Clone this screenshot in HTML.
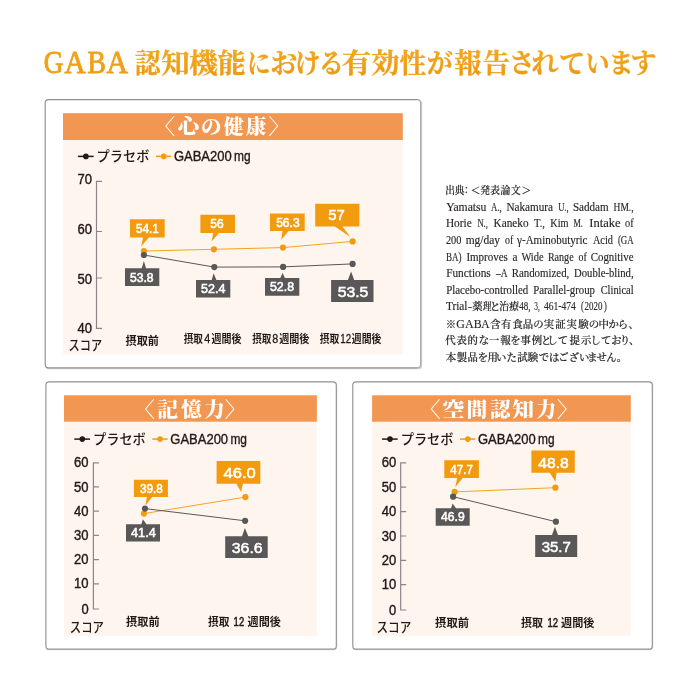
<!DOCTYPE html>
<html lang="ja">
<head>
<meta charset="utf-8">
<title>GABA 認知機能における有効性が報告されています</title>
<style>
html,body{margin:0;padding:0;background:#fff;}
body{width:700px;height:700px;overflow:hidden;position:relative;}
svg{position:absolute;left:0;top:0;display:block;}
text{white-space:pre;text-spacing-trim:space-all;}
.ttl{font-family:"Liberation Serif", "Noto Serif CJK SC", serif;font-weight:700;fill:url(#tg);stroke:#F0A016;stroke-width:0.3px;text-anchor:middle;}
.ttl .lat{font-weight:400;stroke-width:0.9px;}
.hd{font-family:"Liberation Serif", "Noto Serif CJK SC", serif;font-weight:900;fill:#fff;font-size:20.5px;text-anchor:middle;}
.hd .br{font-weight:300;font-size:21.5px;}
.lg{font-family:"Liberation Sans", "Noto Sans CJK JP", sans-serif;font-weight:500;fill:#231815;font-size:13.5px;}
.lgl{font-family:"Liberation Sans", "Noto Sans CJK JP", sans-serif;font-weight:400;fill:#231815;font-size:14px;stroke:#231815;stroke-width:0.35px;}
.ax{font-family:"Liberation Sans", "Noto Sans CJK JP", sans-serif;font-weight:400;fill:#231815;font-size:14px;text-anchor:end;stroke:#231815;stroke-width:0.4px;}
.xl{font-family:"Liberation Sans", "Noto Sans CJK JP", sans-serif;font-weight:700;fill:#231815;}
.xl .d{font-weight:400;font-size:12px;stroke:#231815;}
.cv{font-family:"Liberation Sans", "Noto Sans CJK JP", sans-serif;font-weight:400;fill:#fff;stroke:#fff;stroke-width:0.55px;text-anchor:middle;}
.src{font-family:"Liberation Serif", "Noto Serif CJK SC", serif;font-weight:400;fill:#2a2624;stroke:#2a2624;stroke-width:0.15px;font-size:12px;}
.src .j{font-weight:500;stroke-width:0.2px;text-anchor:middle;}
.src .c{text-anchor:middle;}
</style>
</head>
<body>
<svg width="700" height="700" viewBox="0 0 700 700">
<defs>
<linearGradient id="tg" gradientUnits="userSpaceOnUse" x1="0" y1="48" x2="0" y2="78">
<stop offset="0" stop-color="#F4AA1C"/><stop offset="1" stop-color="#EC9712"/>
</linearGradient>
<linearGradient id="bg1" x1="0" y1="0" x2="1" y2="0">
<stop offset="0" stop-color="#8f8f8f"/><stop offset="0.99" stop-color="#8f8f8f"/><stop offset="0.992" stop-color="#a8a8a8"/><stop offset="1" stop-color="#a8a8a8"/>
</linearGradient>
</defs>
<rect x="0" y="0" width="700" height="700" fill="#ffffff"/>

<text class="ttl"><tspan x="53.5" y="72.5" class="lat" font-size="30.5" textLength="19.66" lengthAdjust="spacingAndGlyphs">G</tspan><tspan x="75.1" y="72.5" class="lat" font-size="30.5" textLength="21.11" lengthAdjust="spacingAndGlyphs">A</tspan><tspan x="96.7" y="72.5" class="lat" font-size="30.5" textLength="18.37" lengthAdjust="spacingAndGlyphs">B</tspan><tspan x="117.3" y="72.5" class="lat" font-size="30.5" textLength="21.52" lengthAdjust="spacingAndGlyphs">A</tspan><tspan x="131.5" y="73" font-size="12"> </tspan><tspan x="147.8" y="73.0" font-size="27.3" textLength="25.62" lengthAdjust="spacingAndGlyphs">認</tspan><tspan x="175.4" y="73.0" font-size="27.3" textLength="28.40" lengthAdjust="spacingAndGlyphs">知</tspan><tspan x="203.5" y="73.0" font-size="27.3" textLength="28.35" lengthAdjust="spacingAndGlyphs">機</tspan><tspan x="231.7" y="73.0" font-size="27.3" textLength="27.84" lengthAdjust="spacingAndGlyphs">能</tspan><tspan x="258.9" y="73.2" font-size="27.6" textLength="23.30" lengthAdjust="spacingAndGlyphs">に</tspan><tspan x="283.8" y="73.2" font-size="27.6" textLength="27.03" lengthAdjust="spacingAndGlyphs">お</tspan><tspan x="307.6" y="73.2" font-size="27.6" textLength="26.24" lengthAdjust="spacingAndGlyphs">け</tspan><tspan x="331.6" y="73.2" font-size="27.6" textLength="25.47" lengthAdjust="spacingAndGlyphs">る</tspan><tspan x="356.5" y="73.0" font-size="27.3" textLength="29.49" lengthAdjust="spacingAndGlyphs">有</tspan><tspan x="385.4" y="73.0" font-size="27.3" textLength="28.40" lengthAdjust="spacingAndGlyphs">効</tspan><tspan x="412.8" y="73.0" font-size="27.3" textLength="26.79" lengthAdjust="spacingAndGlyphs">性</tspan><tspan x="439.7" y="73.2" font-size="27.6" textLength="26.05" lengthAdjust="spacingAndGlyphs">が</tspan><tspan x="468.0" y="73.0" font-size="27.3">報</tspan><tspan x="496.5" y="73.0" font-size="27.3">告</tspan><tspan x="522.0" y="73.2" font-size="27.6" textLength="25.85" lengthAdjust="spacingAndGlyphs">さ</tspan><tspan x="545.1" y="73.2" font-size="27.6" textLength="27.06" lengthAdjust="spacingAndGlyphs">れ</tspan><tspan x="572.1" y="73.2" font-size="27.6" textLength="26.27" lengthAdjust="spacingAndGlyphs">て</tspan><tspan x="597.5" y="73.2" font-size="27.6" textLength="24.14" lengthAdjust="spacingAndGlyphs">い</tspan><tspan x="621.2" y="73.2" font-size="27.6" textLength="25.47" lengthAdjust="spacingAndGlyphs">ま</tspan><tspan x="643.6" y="73.2" font-size="27.6" textLength="26.02" lengthAdjust="spacingAndGlyphs">す</tspan></text>
<rect x="46.2" y="100.5" width="375.4" height="268.3" rx="3.3" fill="none" stroke="#cccccc" stroke-width="1.1"/>
<rect x="45.2" y="99.6" width="375.4" height="268.3" rx="3.3" fill="#fff" stroke="url(#bg1)" stroke-width="1.15"/>
<rect x="63.0" y="113.2" width="339.8" height="241.1" fill="#FEF5EE"/>
<rect x="63.0" y="113.2" width="339.8" height="26.8" fill="#F29751"/>
<text class="hd"><tspan x="164.6" y="134.1" class="br">〈</tspan><tspan x="188.6" y="134.1" textLength="21.66" lengthAdjust="spacingAndGlyphs">心</tspan><tspan x="211.3" y="134.1">の</tspan><tspan x="233.8" y="134.1" textLength="19.99" lengthAdjust="spacingAndGlyphs">健</tspan><tspan x="256.1" y="134.1">康</tspan><tspan x="279.0" y="134.1" class="br">〉</tspan></text>
<line x1="77.9" y1="156.4" x2="93.6" y2="156.4" stroke="#231815" stroke-width="1.5"/>
<circle cx="85.9" cy="156.4" r="2.8" fill="#231815"/>
<text class="lg" x="96.6" y="161.4" textLength="52.8" lengthAdjust="spacingAndGlyphs">プラセボ</text>
<line x1="155.9" y1="156.4" x2="171.2" y2="156.4" stroke="#F29B0F" stroke-width="1.5"/>
<circle cx="163.7" cy="156.4" r="2.8" fill="#F29B0F"/>
<text class="lgl" y="161.3"><tspan x="173.9" textLength="57.8" lengthAdjust="spacingAndGlyphs">GABA200</tspan><tspan x="234.0" textLength="16.6" lengthAdjust="spacingAndGlyphs">mg</tspan></text>
<path d="M102.0 181.3H96.5V328.3H102.0M96.5 231.5H102.0M96.5 278.0H102.0" fill="none" stroke="#8b8685" stroke-width="1.2"/>
<text class="ax" x="92.0" y="183.6" textLength="14.5" lengthAdjust="spacingAndGlyphs">70</text>
<text class="ax" x="92.0" y="234.3" textLength="14.5" lengthAdjust="spacingAndGlyphs">60</text>
<text class="ax" x="92.0" y="283.9" textLength="14.5" lengthAdjust="spacingAndGlyphs">50</text>
<text class="ax" x="92.0" y="333.0" textLength="14.5" lengthAdjust="spacingAndGlyphs">40</text>
<text class="lg" x="68.6" y="349.8" textLength="33.6" lengthAdjust="spacingAndGlyphs" style="font-size:13.4px">スコア</text>
<polyline points="143.9,251.0 213.9,249.3 282.9,247.6 352.6,241.4" fill="none" stroke="#F29B0F" stroke-width="0.9"/>
<circle cx="143.9" cy="251.0" r="3.1" fill="#F29B0F"/>
<circle cx="213.9" cy="249.3" r="3.1" fill="#F29B0F"/>
<circle cx="282.9" cy="247.6" r="3.1" fill="#F29B0F"/>
<circle cx="352.6" cy="241.4" r="3.1" fill="#F29B0F"/>
<polyline points="143.9,255.0 214.3,267.1 283.1,266.9 352.6,263.9" fill="none" stroke="#595757" stroke-width="1.0"/>
<circle cx="143.9" cy="255.0" r="3.1" fill="#595757"/>
<circle cx="214.3" cy="267.1" r="3.1" fill="#595757"/>
<circle cx="283.1" cy="266.9" r="3.1" fill="#595757"/>
<circle cx="352.6" cy="263.9" r="3.1" fill="#595757"/>
<path d="M130.0 219.3H164.7V237.6H148.9L141.1 246.4L143.1 237.6H130.0Z" fill="#F29B0F"/>
<text class="cv" x="147.3" y="232.5" font-size="12.0" textLength="22.6" lengthAdjust="spacingAndGlyphs">54.1</text>
<path d="M200.4 214.7H235.0V232.9H218.9L211.7 241.4L213.1 232.9H200.4Z" fill="#F29B0F"/>
<text class="cv" x="216.9" y="228.0" font-size="12.0" textLength="13.3" lengthAdjust="spacingAndGlyphs">56</text>
<path d="M270.0 213.6H304.7V231.1H288.6L281.1 240.0L282.6 231.1H270.0Z" fill="#F29B0F"/>
<text class="cv" x="287.9" y="226.8" font-size="12.0" textLength="23.5" lengthAdjust="spacingAndGlyphs">56.3</text>
<path d="M315.2 203.8H359.4V226.5H342.4L350.3 237.1L334.9 226.5H315.2Z" fill="#F29B0F"/>
<text class="cv" x="336.6" y="220.0" font-size="15.2" textLength="16.5" lengthAdjust="spacingAndGlyphs">57</text>
<path d="M125.0 268.3H141.7L143.9 261.0L146.0 268.3H159.3V286.1H125.0Z" fill="#595757"/>
<text class="cv" x="141.8" y="281.8" font-size="12.0" textLength="23.6" lengthAdjust="spacingAndGlyphs">53.8</text>
<path d="M196.0 280.0H211.7L213.6 273.3L216.4 280.0H230.3V297.6H196.0Z" fill="#595757"/>
<text class="cv" x="213.2" y="293.0" font-size="12.0" textLength="24.3" lengthAdjust="spacingAndGlyphs">52.4</text>
<path d="M265.0 277.9H280.3L282.6 272.9L284.9 277.9H299.3V295.7H265.0Z" fill="#595757"/>
<text class="cv" x="282.0" y="291.1" font-size="12.0" textLength="24.0" lengthAdjust="spacingAndGlyphs">52.8</text>
<path d="M331.1 280.1H347.9L351.1 271.4L354.2 280.1H373.5V302.1H331.1Z" fill="#595757"/>
<text class="cv" x="353.0" y="296.6" font-size="15.2" textLength="30.7" lengthAdjust="spacingAndGlyphs">53.5</text>
<text class="xl" y="345.3" font-size="11.8"><tspan x="125.6" textLength="33.4" lengthAdjust="spacingAndGlyphs">摂取前</tspan></text>
<text class="xl" y="342.9" font-size="10.8"><tspan x="183.7" textLength="19.2" lengthAdjust="spacingAndGlyphs">摂取</tspan><tspan class="d" x="204.2" textLength="6.0" lengthAdjust="spacingAndGlyphs" style="stroke-width:0.30px">4</tspan><tspan x="211.6" textLength="30.0" lengthAdjust="spacingAndGlyphs">週間後</tspan></text>
<text class="xl" y="342.9" font-size="10.8"><tspan x="252.2" textLength="19.1" lengthAdjust="spacingAndGlyphs">摂取</tspan><tspan class="d" x="272.2" textLength="6.0" lengthAdjust="spacingAndGlyphs" style="stroke-width:0.30px">8</tspan><tspan x="279.2" textLength="30.2" lengthAdjust="spacingAndGlyphs">週間後</tspan></text>
<text class="xl" y="342.9" font-size="10.8"><tspan x="319.7" textLength="19.5" lengthAdjust="spacingAndGlyphs">摂取</tspan><tspan class="d" x="340.3" textLength="10.9" lengthAdjust="spacingAndGlyphs" style="stroke-width:0.30px">12</tspan><tspan x="351.8" textLength="29.6" lengthAdjust="spacingAndGlyphs">週間後</tspan></text>
<rect x="46.4" y="382.3" width="290.4" height="267.3" rx="3.3" fill="none" stroke="#dedede" stroke-width="1.1"/>
<rect x="45.9" y="381.9" width="290.4" height="267.3" rx="3.3" fill="#fff" stroke="#929292" stroke-width="1.15"/>
<rect x="64.0" y="395.3" width="252.9" height="240.7" fill="#FEF5EE"/>
<rect x="64.0" y="395.3" width="252.9" height="26.4" fill="#F29751"/>
<text class="hd"><tspan x="144.2" y="416.5" class="br">〈</tspan><tspan x="167.7" y="416.5" textLength="21.04" lengthAdjust="spacingAndGlyphs">記</tspan><tspan x="191.6" y="416.5">憶</tspan><tspan x="214.4" y="416.5">力</tspan><tspan x="235.3" y="416.5" class="br">〉</tspan></text>
<line x1="74.3" y1="439.1" x2="90.0" y2="439.1" stroke="#231815" stroke-width="1.5"/>
<circle cx="82.3" cy="439.1" r="2.8" fill="#231815"/>
<text class="lg" x="93.0" y="444.1" textLength="52.8" lengthAdjust="spacingAndGlyphs">プラセボ</text>
<line x1="152.3" y1="439.1" x2="167.6" y2="439.1" stroke="#F29B0F" stroke-width="1.5"/>
<circle cx="160.1" cy="439.1" r="2.8" fill="#F29B0F"/>
<text class="lgl" y="444.0"><tspan x="170.3" textLength="57.8" lengthAdjust="spacingAndGlyphs">GABA200</tspan><tspan x="230.4" textLength="16.6" lengthAdjust="spacingAndGlyphs">mg</tspan></text>
<path d="M98.9 462.8H93.4V609.0H98.9M93.4 486.9H98.9M93.4 511.2H98.9M93.4 535.3H98.9M93.4 559.6H98.9M93.4 583.8H98.9" fill="none" stroke="#8b8685" stroke-width="1.2"/>
<text class="ax" x="88.6" y="467.4" textLength="14.5" lengthAdjust="spacingAndGlyphs">60</text>
<text class="ax" x="88.6" y="491.5" textLength="14.5" lengthAdjust="spacingAndGlyphs">50</text>
<text class="ax" x="88.6" y="515.8" textLength="14.5" lengthAdjust="spacingAndGlyphs">40</text>
<text class="ax" x="88.6" y="539.9" textLength="14.5" lengthAdjust="spacingAndGlyphs">30</text>
<text class="ax" x="88.6" y="564.2" textLength="14.5" lengthAdjust="spacingAndGlyphs">20</text>
<text class="ax" x="88.6" y="588.4" textLength="14.5" lengthAdjust="spacingAndGlyphs">10</text>
<text class="ax" x="88.6" y="613.6" textLength="7.2" lengthAdjust="spacingAndGlyphs">0</text>
<text class="lg" x="69.8" y="631.5" textLength="34.2" lengthAdjust="spacingAndGlyphs" style="font-size:13.2px">スコア</text>
<polyline points="143.9,513.6 245.4,497.1" fill="none" stroke="#F29B0F" stroke-width="0.9"/>
<circle cx="143.9" cy="513.6" r="3.1" fill="#F29B0F"/>
<circle cx="245.4" cy="497.1" r="3.1" fill="#F29B0F"/>
<polyline points="145.0,508.6 245.1,520.8" fill="none" stroke="#595757" stroke-width="1.0"/>
<circle cx="145.0" cy="508.6" r="3.1" fill="#595757"/>
<circle cx="245.1" cy="520.8" r="3.1" fill="#595757"/>
<path d="M133.9 479.7H167.9V496.9H152.1L145.4 505.7L146.9 496.9H133.9Z" fill="#F29B0F"/>
<text class="cv" x="151.4" y="493.0" font-size="12.0" textLength="22.9" lengthAdjust="spacingAndGlyphs">39.8</text>
<path d="M216.6 461.1H260.3V483.8H242.9L241.1 492.0L236.3 483.8H216.6Z" fill="#F29B0F"/>
<text class="cv" x="239.6" y="477.9" font-size="15.2" textLength="32.2" lengthAdjust="spacingAndGlyphs">46.0</text>
<path d="M126.0 524.3H141.4L142.9 519.3L146.4 524.3H160.0V541.4H126.0Z" fill="#595757"/>
<text class="cv" x="143.4" y="537.2" font-size="12.0" textLength="24.6" lengthAdjust="spacingAndGlyphs">41.4</text>
<path d="M225.2 536.2H242.0L244.9 528.0L248.3 536.2H267.7V558.0H225.2Z" fill="#595757"/>
<text class="cv" x="247.2" y="553.0" font-size="15.2" textLength="30.9" lengthAdjust="spacingAndGlyphs">36.6</text>
<text class="xl" y="626.0" font-size="11.8"><tspan x="126.1" textLength="33.6" lengthAdjust="spacingAndGlyphs">摂取前</tspan></text>
<text class="xl" y="625.7" font-size="11.3"><tspan x="208.0" textLength="21.4" lengthAdjust="spacingAndGlyphs">摂取</tspan><tspan x="230.0" textLength="1.0" lengthAdjust="spacingAndGlyphs"> </tspan><tspan class="d" x="233.6" textLength="10.6" lengthAdjust="spacingAndGlyphs" style="stroke-width:0.50px">12</tspan><tspan x="245.0" textLength="1.0" lengthAdjust="spacingAndGlyphs"> </tspan><tspan x="247.6" textLength="33.4" lengthAdjust="spacingAndGlyphs">週間後</tspan></text>
<rect x="353.3" y="382.3" width="299.5" height="267.3" rx="3.3" fill="none" stroke="#dedede" stroke-width="1.1"/>
<rect x="352.8" y="381.9" width="299.5" height="267.3" rx="3.3" fill="#fff" stroke="#929292" stroke-width="1.15"/>
<rect x="372.1" y="395.3" width="258.7" height="241.0" fill="#FEF5EE"/>
<rect x="372.1" y="395.3" width="258.7" height="26.4" fill="#F29751"/>
<text class="hd"><tspan x="430.0" y="416.5" class="br">〈</tspan><tspan x="453.5" y="416.5" textLength="21.90" lengthAdjust="spacingAndGlyphs">空</tspan><tspan x="476.8" y="416.5" textLength="20.85" lengthAdjust="spacingAndGlyphs">間</tspan><tspan x="500.2" y="416.5">認</tspan><tspan x="523.0" y="416.5" textLength="21.69" lengthAdjust="spacingAndGlyphs">知</tspan><tspan x="546.2" y="416.5" textLength="19.93" lengthAdjust="spacingAndGlyphs">力</tspan><tspan x="567.4" y="416.5" class="br">〉</tspan></text>
<line x1="382.0" y1="439.1" x2="397.7" y2="439.1" stroke="#231815" stroke-width="1.5"/>
<circle cx="390.0" cy="439.1" r="2.8" fill="#231815"/>
<text class="lg" x="400.7" y="444.1" textLength="52.8" lengthAdjust="spacingAndGlyphs">プラセボ</text>
<line x1="460.0" y1="439.1" x2="475.3" y2="439.1" stroke="#F29B0F" stroke-width="1.5"/>
<circle cx="467.8" cy="439.1" r="2.8" fill="#F29B0F"/>
<text class="lgl" y="444.0"><tspan x="478.0" textLength="57.8" lengthAdjust="spacingAndGlyphs">GABA200</tspan><tspan x="538.1" textLength="16.6" lengthAdjust="spacingAndGlyphs">mg</tspan></text>
<path d="M406.2 462.8H400.7V610.0H406.2M400.7 487.2H406.2M400.7 511.6H406.2M400.7 536.0H406.2M400.7 560.4H406.2M400.7 584.6H406.2" fill="none" stroke="#8b8685" stroke-width="1.2"/>
<text class="ax" x="396.3" y="467.4" textLength="14.5" lengthAdjust="spacingAndGlyphs">60</text>
<text class="ax" x="396.3" y="491.8" textLength="14.5" lengthAdjust="spacingAndGlyphs">50</text>
<text class="ax" x="396.3" y="516.2" textLength="14.5" lengthAdjust="spacingAndGlyphs">40</text>
<text class="ax" x="396.3" y="540.6" textLength="14.5" lengthAdjust="spacingAndGlyphs">30</text>
<text class="ax" x="396.3" y="565.0" textLength="14.5" lengthAdjust="spacingAndGlyphs">20</text>
<text class="ax" x="396.3" y="589.2" textLength="14.5" lengthAdjust="spacingAndGlyphs">10</text>
<text class="ax" x="396.3" y="614.6" textLength="7.2" lengthAdjust="spacingAndGlyphs">0</text>
<text class="lg" x="376.5" y="631.9" textLength="34.8" lengthAdjust="spacingAndGlyphs" style="font-size:13.2px">スコア</text>
<polyline points="454.6,491.9 555.4,487.7" fill="none" stroke="#F29B0F" stroke-width="0.9"/>
<circle cx="454.6" cy="491.9" r="3.1" fill="#F29B0F"/>
<circle cx="555.4" cy="487.7" r="3.1" fill="#F29B0F"/>
<polyline points="453.1,496.7 555.9,521.7" fill="none" stroke="#595757" stroke-width="1.0"/>
<circle cx="453.1" cy="496.7" r="3.1" fill="#595757"/>
<circle cx="555.9" cy="521.7" r="3.1" fill="#595757"/>
<path d="M444.3 460.3H478.9V477.9H462.6L455.4 487.1L457.1 477.9H444.3Z" fill="#F29B0F"/>
<text class="cv" x="461.6" y="473.7" font-size="12.0" textLength="22.6" lengthAdjust="spacingAndGlyphs">47.7</text>
<path d="M531.4 450.5H574.8V472.8H556.6L555.4 481.7L549.8 472.8H531.4Z" fill="#F29B0F"/>
<text class="cv" x="553.5" y="467.8" font-size="15.2" textLength="30.5" lengthAdjust="spacingAndGlyphs">48.8</text>
<path d="M435.7 508.3H451.1L452.6 503.6L456.0 508.3H469.7V525.7H435.7Z" fill="#595757"/>
<text class="cv" x="452.9" y="521.1" font-size="12.0" textLength="23.6" lengthAdjust="spacingAndGlyphs">46.9</text>
<path d="M535.2 534.9H552.0L554.9 526.8L558.0 534.9H577.2V557.1H535.2Z" fill="#595757"/>
<text class="cv" x="556.3" y="551.6" font-size="15.2" textLength="29.2" lengthAdjust="spacingAndGlyphs">35.7</text>
<text class="xl" y="626.6" font-size="11.8"><tspan x="435.1" textLength="33.9" lengthAdjust="spacingAndGlyphs">摂取前</tspan></text>
<text class="xl" y="626.6" font-size="11.3"><tspan x="521.0" textLength="22.0" lengthAdjust="spacingAndGlyphs">摂取</tspan><tspan x="543.5" textLength="1.0" lengthAdjust="spacingAndGlyphs"> </tspan><tspan class="d" x="547.4" textLength="10.6" lengthAdjust="spacingAndGlyphs" style="stroke-width:0.50px">12</tspan><tspan x="558.5" textLength="1.0" lengthAdjust="spacingAndGlyphs"> </tspan><tspan x="561.0" textLength="33.4" lengthAdjust="spacingAndGlyphs">週間後</tspan></text>
<text class="src"><tspan x="450.0" y="194.4" class="j" font-size="9.7">出</tspan><tspan x="459.5" y="194.4" class="j" font-size="9.7">典</tspan><tspan x="466.3" y="194.4" class="j" font-size="9.7">：</tspan><tspan x="475.7" y="194.4" class="j" font-size="9.7">＜</tspan><tspan x="485.2" y="194.4" class="j" font-size="9.7">発</tspan><tspan x="495.2" y="194.4" class="j" font-size="9.7">表</tspan><tspan x="505.4" y="194.4" class="j" font-size="9.7">論</tspan><tspan x="515.8" y="194.4" class="j" font-size="9.7">文</tspan><tspan x="526.4" y="194.4" class="j" font-size="9.7">＞</tspan></text>
<text class="src"><tspan x="446.2" y="210.7" textLength="40.2" lengthAdjust="spacingAndGlyphs">Yamatsu</tspan> <tspan x="491.0" y="210.7" textLength="10.8" lengthAdjust="spacingAndGlyphs">A.,</tspan> <tspan x="506.4" y="210.7" textLength="46.5" lengthAdjust="spacingAndGlyphs">Nakamura</tspan> <tspan x="558.2" y="210.7" textLength="10.4" lengthAdjust="spacingAndGlyphs">U.,</tspan> <tspan x="572.9" y="210.7" textLength="35.7" lengthAdjust="spacingAndGlyphs">Saddam</tspan> <tspan x="613.6" y="210.7" textLength="20.0" lengthAdjust="spacingAndGlyphs">HM.,</tspan></text>
<text class="src"><tspan x="445.9" y="227.4" textLength="25.8" lengthAdjust="spacingAndGlyphs">Horie</tspan> <tspan x="477.4" y="227.4" textLength="10.5" lengthAdjust="spacingAndGlyphs">N.,</tspan> <tspan x="493.6" y="227.4" textLength="35.0" lengthAdjust="spacingAndGlyphs">Kaneko</tspan> <tspan x="534.0" y="227.4" textLength="11.0" lengthAdjust="spacingAndGlyphs">T.,</tspan> <tspan x="550.3" y="227.4" textLength="18.3" lengthAdjust="spacingAndGlyphs">Kim</tspan> <tspan x="573.6" y="227.4" textLength="9.3" lengthAdjust="spacingAndGlyphs">M.</tspan> <tspan x="589.3" y="227.4" textLength="31.2" lengthAdjust="spacingAndGlyphs">Intake</tspan> <tspan x="625.0" y="227.4" textLength="8.6" lengthAdjust="spacingAndGlyphs">of</tspan></text>
<text class="src"><tspan x="445.9" y="243.9" textLength="15.5" lengthAdjust="spacingAndGlyphs">200</tspan> <tspan x="465.7" y="243.9" textLength="34.3" lengthAdjust="spacingAndGlyphs">mg/day</tspan> <tspan x="505.0" y="243.9" textLength="8.2" lengthAdjust="spacingAndGlyphs">of</tspan> <tspan x="517.1" y="243.9" textLength="70.4" lengthAdjust="spacingAndGlyphs">γ-Aminobutyric</tspan> <tspan x="592.9" y="243.9" textLength="20.0" lengthAdjust="spacingAndGlyphs">Acid</tspan> <tspan x="617.9" y="243.9" textLength="15.7" lengthAdjust="spacingAndGlyphs">(GA</tspan></text>
<text class="src"><tspan x="445.9" y="260.7" textLength="15.5" lengthAdjust="spacingAndGlyphs">BA)</tspan> <tspan x="466.4" y="260.7" textLength="41.5" lengthAdjust="spacingAndGlyphs">Improves</tspan> <tspan x="512.5" y="260.7" textLength="5.0" lengthAdjust="spacingAndGlyphs">a</tspan> <tspan x="521.4" y="260.7" textLength="22.2" lengthAdjust="spacingAndGlyphs">Wide</tspan> <tspan x="547.9" y="260.7" textLength="25.7" lengthAdjust="spacingAndGlyphs">Range</tspan> <tspan x="578.6" y="260.7" textLength="8.2" lengthAdjust="spacingAndGlyphs">of</tspan> <tspan x="590.7" y="260.7" textLength="42.9" lengthAdjust="spacingAndGlyphs">Cognitive</tspan></text>
<text class="src"><tspan x="446.2" y="277.1" textLength="44.5" lengthAdjust="spacingAndGlyphs">Functions</tspan> <tspan x="496.0" y="277.1" textLength="11.1" lengthAdjust="spacingAndGlyphs">–A</tspan> <tspan x="511.7" y="277.1" textLength="57.6" lengthAdjust="spacingAndGlyphs">Randomized,</tspan> <tspan x="574.0" y="277.1" textLength="59.6" lengthAdjust="spacingAndGlyphs">Double-blind,</tspan></text>
<text class="src"><tspan x="446.2" y="293.6" textLength="82.1" lengthAdjust="spacingAndGlyphs">Placebo-controlled</tspan> <tspan x="533.2" y="293.6" textLength="61.8" lengthAdjust="spacingAndGlyphs">Parallel-group</tspan> <tspan x="600.7" y="293.6" textLength="32.9" lengthAdjust="spacingAndGlyphs">Clinical</tspan></text>
<text class="src"><tspan x="445.9" y="310.4" textLength="21.6" lengthAdjust="spacingAndGlyphs">Trial</tspan><tspan x="468.2" y="310.4" textLength="3.4" lengthAdjust="spacingAndGlyphs">–</tspan><tspan x="477.3" y="310.2" class="j" font-size="9.7" textLength="10.35" lengthAdjust="spacingAndGlyphs">薬</tspan><tspan x="487.3" y="310.2" class="j" font-size="9.7" textLength="8.41" lengthAdjust="spacingAndGlyphs">理</tspan><tspan x="495.1" y="310.2" class="j" font-size="9.7" textLength="11.16" lengthAdjust="spacingAndGlyphs">と</tspan><tspan x="504.1" y="310.2" class="j" font-size="9.7">治</tspan><tspan x="514.1" y="310.2" class="j" font-size="9.7">療</tspan><tspan x="519.3" y="310.4" textLength="11.2" lengthAdjust="spacingAndGlyphs">48,</tspan> <tspan x="534.3" y="310.4" textLength="5.5" lengthAdjust="spacingAndGlyphs">3,</tspan> <tspan x="543.9" y="310.4" textLength="31.8" lengthAdjust="spacingAndGlyphs">461-474</tspan> <tspan x="581.0" y="310.1" textLength="2.8" lengthAdjust="spacingAndGlyphs">(</tspan><tspan x="584.6" y="310.4" textLength="18.0" lengthAdjust="spacingAndGlyphs">2020</tspan><tspan x="604.0" y="310.1" textLength="2.8" lengthAdjust="spacingAndGlyphs">)</tspan></text>
<text class="src"><tspan x="450.9" y="327.5" class="j" font-size="10.4">※</tspan><tspan x="460.6" y="327.5" class="c" font-size="12.6" textLength="8.60" lengthAdjust="spacingAndGlyphs">G</tspan><tspan x="469.3" y="327.5" class="c" font-size="12.6" textLength="8.69" lengthAdjust="spacingAndGlyphs">A</tspan><tspan x="477.8" y="327.5" class="c" font-size="12.6" textLength="7.88" lengthAdjust="spacingAndGlyphs">B</tspan><tspan x="485.5" y="327.5" class="c" font-size="12.6" textLength="8.29" lengthAdjust="spacingAndGlyphs">A</tspan><tspan x="495.4" y="327.5" class="j" font-size="10.4">含</tspan><tspan x="506.2" y="327.5" class="j" font-size="10.4">有</tspan><tspan x="517.6" y="327.5" class="j" font-size="10.4">食</tspan><tspan x="528.0" y="327.5" class="j" font-size="10.4">品</tspan><tspan x="538.5" y="327.5" class="j" font-size="10.4">の</tspan><tspan x="549.0" y="327.5" class="j" font-size="10.4">実</tspan><tspan x="560.5" y="327.5" class="j" font-size="10.4">証</tspan><tspan x="571.6" y="327.5" class="j" font-size="10.4">実</tspan><tspan x="583.4" y="327.5" class="j" font-size="10.4">験</tspan><tspan x="594.0" y="327.5" class="j" font-size="10.4">の</tspan><tspan x="603.8" y="327.5" class="j" font-size="10.4">中</tspan><tspan x="613.6" y="327.5" class="j" font-size="10.4">か</tspan><tspan x="623.0" y="327.5" class="j" font-size="10.4">ら</tspan><tspan x="633.6" y="327.5" class="j" font-size="10.4">、</tspan></text>
<text class="src"><tspan x="450.5" y="344.2" class="j" font-size="10.4">代</tspan><tspan x="461.8" y="344.2" class="j" font-size="10.4">表</tspan><tspan x="472.8" y="344.2" class="j" font-size="10.4">的</tspan><tspan x="483.9" y="344.2" class="j" font-size="10.4">な</tspan><tspan x="494.0" y="344.2" class="j" font-size="10.4">一</tspan><tspan x="505.4" y="344.2" class="j" font-size="10.4">報</tspan><tspan x="515.4" y="344.2" class="j" font-size="10.4">を</tspan><tspan x="525.7" y="344.2" class="j" font-size="10.4">事</tspan><tspan x="537.0" y="344.2" class="j" font-size="10.4">例</tspan><tspan x="546.3" y="344.2" class="j" font-size="10.4">と</tspan><tspan x="552.5" y="344.2" class="j" font-size="10.4">し</tspan><tspan x="563.0" y="344.2" class="j" font-size="10.4">て</tspan><tspan x="574.6" y="344.2" class="j" font-size="10.4">提</tspan><tspan x="586.2" y="344.2" class="j" font-size="10.4">示</tspan><tspan x="595.8" y="344.2" class="j" font-size="10.4">し</tspan><tspan x="606.3" y="344.2" class="j" font-size="10.4">て</tspan><tspan x="616.5" y="344.2" class="j" font-size="10.4">お</tspan><tspan x="624.9" y="344.2" class="j" font-size="10.4">り</tspan><tspan x="634.2" y="344.2" class="j" font-size="10.4">、</tspan></text>
<text class="src"><tspan x="450.9" y="360.8" class="j" font-size="10.4">本</tspan><tspan x="462.0" y="360.8" class="j" font-size="10.4">製</tspan><tspan x="472.6" y="360.8" class="j" font-size="10.4">品</tspan><tspan x="482.9" y="360.8" class="j" font-size="10.4">を</tspan><tspan x="492.6" y="360.8" class="j" font-size="10.4">用</tspan><tspan x="501.2" y="360.8" class="j" font-size="10.4">い</tspan><tspan x="511.6" y="360.8" class="j" font-size="10.4">た</tspan><tspan x="522.4" y="360.8" class="j" font-size="10.4">試</tspan><tspan x="533.0" y="360.8" class="j" font-size="10.4">験</tspan><tspan x="544.0" y="360.8" class="j" font-size="10.4">で</tspan><tspan x="554.2" y="360.8" class="j" font-size="10.4">は</tspan><tspan x="563.5" y="360.8" class="j" font-size="10.4">ご</tspan><tspan x="573.9" y="360.8" class="j" font-size="10.4">ざ</tspan><tspan x="584.3" y="360.8" class="j" font-size="10.4">い</tspan><tspan x="592.5" y="360.8" class="j" font-size="10.4">ま</tspan><tspan x="601.8" y="360.8" class="j" font-size="10.4">せ</tspan><tspan x="611.5" y="360.8" class="j" font-size="10.4">ん</tspan><tspan x="622.0" y="360.8" class="j" font-size="10.4">。</tspan></text>
</svg>
</body>
</html>
